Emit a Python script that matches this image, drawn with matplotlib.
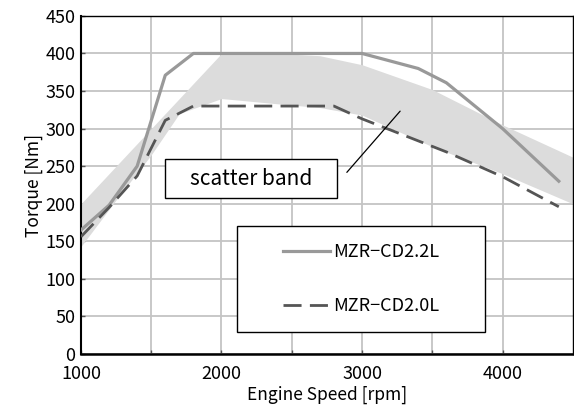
import numpy as np
import matplotlib
matplotlib.use("Agg")
import matplotlib.pyplot as plt
from matplotlib.patches import Rectangle

plt.rcParams['font.family'] = ['Noto Sans CJK JP', 'DejaVu Sans']

# MZR-CD2.2L (solid)
rpm_22 = [1000, 1200, 1400, 1600, 1800, 3000, 3400, 3600, 4000, 4400]
torque_22 = [165, 198, 250, 371, 400, 400, 380, 361, 300, 230]

# MZR-CD2.0L (dashed)
rpm_20 = [1000, 1200, 1400, 1600, 1800, 2800, 3000, 3600, 4000, 4400]
torque_20 = [156, 195, 237, 311, 330, 330, 313, 269, 236, 196]

# scatter band
band_rpm = [1000, 1250, 1500, 1700, 2000, 2400, 2700, 3000, 3500, 4000, 4500]
band_upper = [200, 250, 300, 340, 400, 400, 397, 385, 352, 305, 262]
band_lower = [143, 205, 265, 320, 340, 333, 328, 318, 276, 240, 200]

xticks = [1000, 2000, 3000, 4000]
yticks = list(range(0, 451, 50))

fig = plt.figure(figsize=(5.74, 4.18), dpi=100)
ax = fig.add_axes([0.141, 0.153, 0.857, 0.809])

ax.fill_between(band_rpm, band_lower, band_upper, color='#dcdcdc', lw=0, zorder=1)
ax.plot(rpm_22, torque_22, color='#999999', lw=2.3, zorder=3, label='MZR\u2212CD2.2L')
ax.plot(rpm_20, torque_20, color='#555555', lw=2.0, dashes=(6.5, 3), zorder=3,
        label='MZR\u2212CD2.0L')

ax.set_xlim(1000, 4500)
ax.set_ylim(0, 450)
ax.set_xticks(xticks)
ax.set_xticks(np.arange(1500, 4500, 1000), minor=True)
ax.set_yticks(yticks)
ax.grid(True, which='both', color='#c4c4c4', lw=1.3, zorder=0)
ax.set_axisbelow(True)
ax.tick_params(which='both', direction='in', length=3, width=1, color='#555555',
               labelsize=13, pad=8)
ax.tick_params(axis='y', pad=4)
for s in ax.spines.values():
    s.set_color('black')
    s.set_linewidth(1.0)
ax.spines['bottom'].set_linewidth(1.8)
ax.spines['left'].set_linewidth(1.5)

ax.set_xlabel('Engine Speed [rpm]', fontsize=12.5, labelpad=2)
ax.set_ylabel('Torque [Nm]', fontsize=12.5, labelpad=2)

# scatter band label box
ax.add_patch(Rectangle((0.171, 0.462), 0.350, 0.115, transform=ax.transAxes,
                       facecolor='white', edgecolor='black', lw=1.0, zorder=4))
ax.text(0.346, 0.519, 'scatter band', transform=ax.transAxes, ha='center',
        va='center', fontsize=15, zorder=5)
ax.annotate('', xy=(3284, 326), xytext=(2879, 239),
            arrowprops=dict(arrowstyle='-', lw=0.9, color='black'), zorder=5)

# legend box
ax.add_patch(Rectangle((0.317, 0.065), 0.504, 0.314, transform=ax.transAxes,
                       facecolor='white', edgecolor='black', lw=1.0, zorder=4))
leg = ax.legend(loc='center', bbox_to_anchor=(0.57, 0.222), frameon=False,
                fontsize=13, handlelength=2.6, handletextpad=0.2, labelspacing=2.0)
leg.set_zorder(6)

fig.savefig('out.png', dpi=100)
